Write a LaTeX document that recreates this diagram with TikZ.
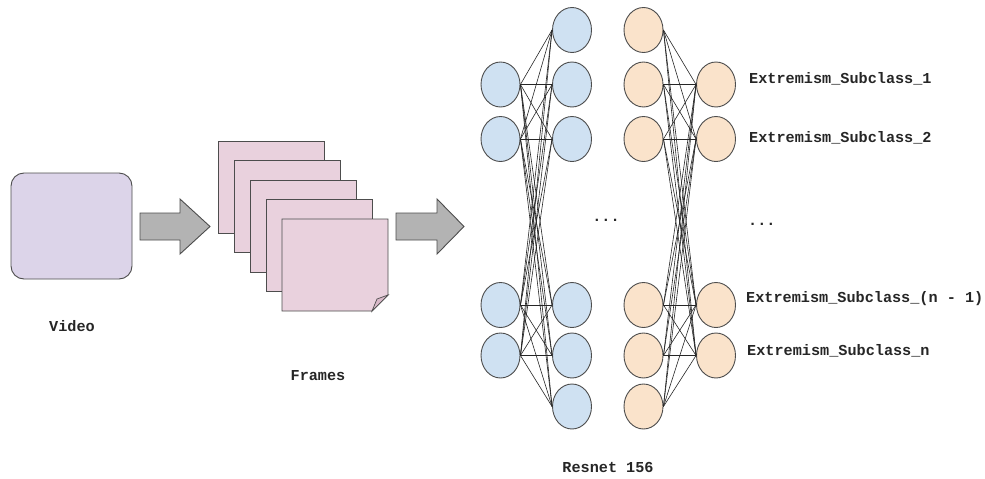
\documentclass[tikz,border=0pt]{standalone}
\usepackage{fontspec}
\setmonofont{Liberation Mono}
\usetikzlibrary{shapes.geometric}
\definecolor{videofill}{HTML}{DCD4E9}
\definecolor{framefill}{HTML}{E9D1DD}
\definecolor{foldfill}{HTML}{D9B9C9}
\definecolor{bluefill}{HTML}{CFE1F2}
\definecolor{orangefill}{HTML}{FAE3CB}
\definecolor{arrowfill}{HTML}{B3B3B3}
\definecolor{edgegray}{HTML}{4D4D4D}
\tikzset{
  lbl/.style={inner sep=0pt, font=\ttfamily\bfseries\fontsize{15.2}{18}\selectfont, text=black!85},
  neuron/.style={ellipse, draw=edgegray, line width=0.9pt, minimum width=39pt, minimum height=45pt, inner sep=0pt},
  bneuron/.style={neuron, fill=bluefill},
  oneuron/.style={neuron, fill=orangefill},
  sheet/.style={draw=edgegray, line width=0.9pt, fill=framefill, minimum width=106pt, minimum height=92pt, inner sep=0pt},
  conn/.style={draw=black!85, line width=0.6pt},
  bigarrow/.style={draw=edgegray, line width=0.9pt, fill=arrowfill, line join=miter}
}
\begin{document}
\begin{tikzpicture}[x=1pt,y=-1pt]
\useasboundingbox[fill=white] (0,0) rectangle (985,479);

% Video
\node[draw=edgegray, line width=0.9pt, fill=videofill, rounded corners=13pt, minimum width=121pt, minimum height=106pt, inner sep=0pt] (video) at (71.5,226) {};
\node[lbl] (videolbl) at (72,326) {Video};

% arrow 1
\path[bigarrow] (140,213) -- (180,213) -- (180,199) -- (210,226.5) -- (180,254) -- (180,240) -- (140,240) -- cycle;

% frames
\foreach \i in {0,1,2,3} {
  \node[sheet] (f\i) at ({271+16*\i},{187+19.5*\i}) {};
}
\path[draw=edgegray, line width=0.9pt, fill=framefill, line join=miter] (282,219) -- (388,219) -- (388,295) -- (372,311) -- (282,311) -- cycle;
\path[draw=edgegray, line width=0.7pt, fill=foldfill] (372,311) -- (377,299) -- (388,295) -- cycle;
\coordinate (f4) at (335,265);
\node[lbl] (frameslbl) at (318,376) {Frames};

% arrow 2
\path[bigarrow] (396,213) -- (437,213) -- (437,199) -- (464,226.5) -- (437,254) -- (437,240) -- (396,240) -- cycle;

% neurons: blue
\node[bneuron] (b1a) at (500.5,84.5) {};
\node[bneuron] (b1b) at (500.5,139) {};
\node[bneuron] (b1c) at (500.5,305) {};
\node[bneuron] (b1d) at (500.5,355.5) {};
\node[bneuron] (b2a) at (572,30) {};
\node[bneuron] (b2b) at (572,84.5) {};
\node[bneuron] (b2c) at (572,139) {};
\node[bneuron] (b2d) at (572,305) {};
\node[bneuron] (b2e) at (572,355.5) {};
\node[bneuron] (b2f) at (572,406.5) {};
% neurons: orange
\node[oneuron] (o1a) at (643.5,30) {};
\node[oneuron] (o1b) at (643.5,84.5) {};
\node[oneuron] (o1c) at (643.5,139) {};
\node[oneuron] (o1d) at (643.5,305) {};
\node[oneuron] (o1e) at (643.5,355.5) {};
\node[oneuron] (o1f) at (643.5,406.5) {};
\node[oneuron] (o2a) at (716,84.5) {};
\node[oneuron] (o2b) at (716,139) {};
\node[oneuron] (o2c) at (716,305) {};
\node[oneuron] (o2d) at (716,355.5) {};

\foreach \s in {a,b,c,d} {
  \foreach \t in {a,b,c,d,e,f} {
    \draw[conn] (b1\s.east) -- (b2\t.west);
    \draw[conn] (o1\t.east) -- (o2\s.west);
  }
}

\node[lbl] (mdots) at (606,220) {...};

% labels
\node[lbl, anchor=west] (l1) at (749,79) {Extremism\_Subclass\_1};
\node[lbl, anchor=west] (l2) at (749,138) {Extremism\_Subclass\_2};
\node[lbl, anchor=west] (ldots) at (748,224) {...};
\node[lbl, anchor=west] (l3) at (746,299) {Extremism\_Subclass\_(n - 1)};
\node[lbl, anchor=west] (l4) at (747,351) {Extremism\_Subclass\_n};

\node[lbl] (resnet) at (608,467) {Resnet 156};
\end{tikzpicture}
\end{document}
